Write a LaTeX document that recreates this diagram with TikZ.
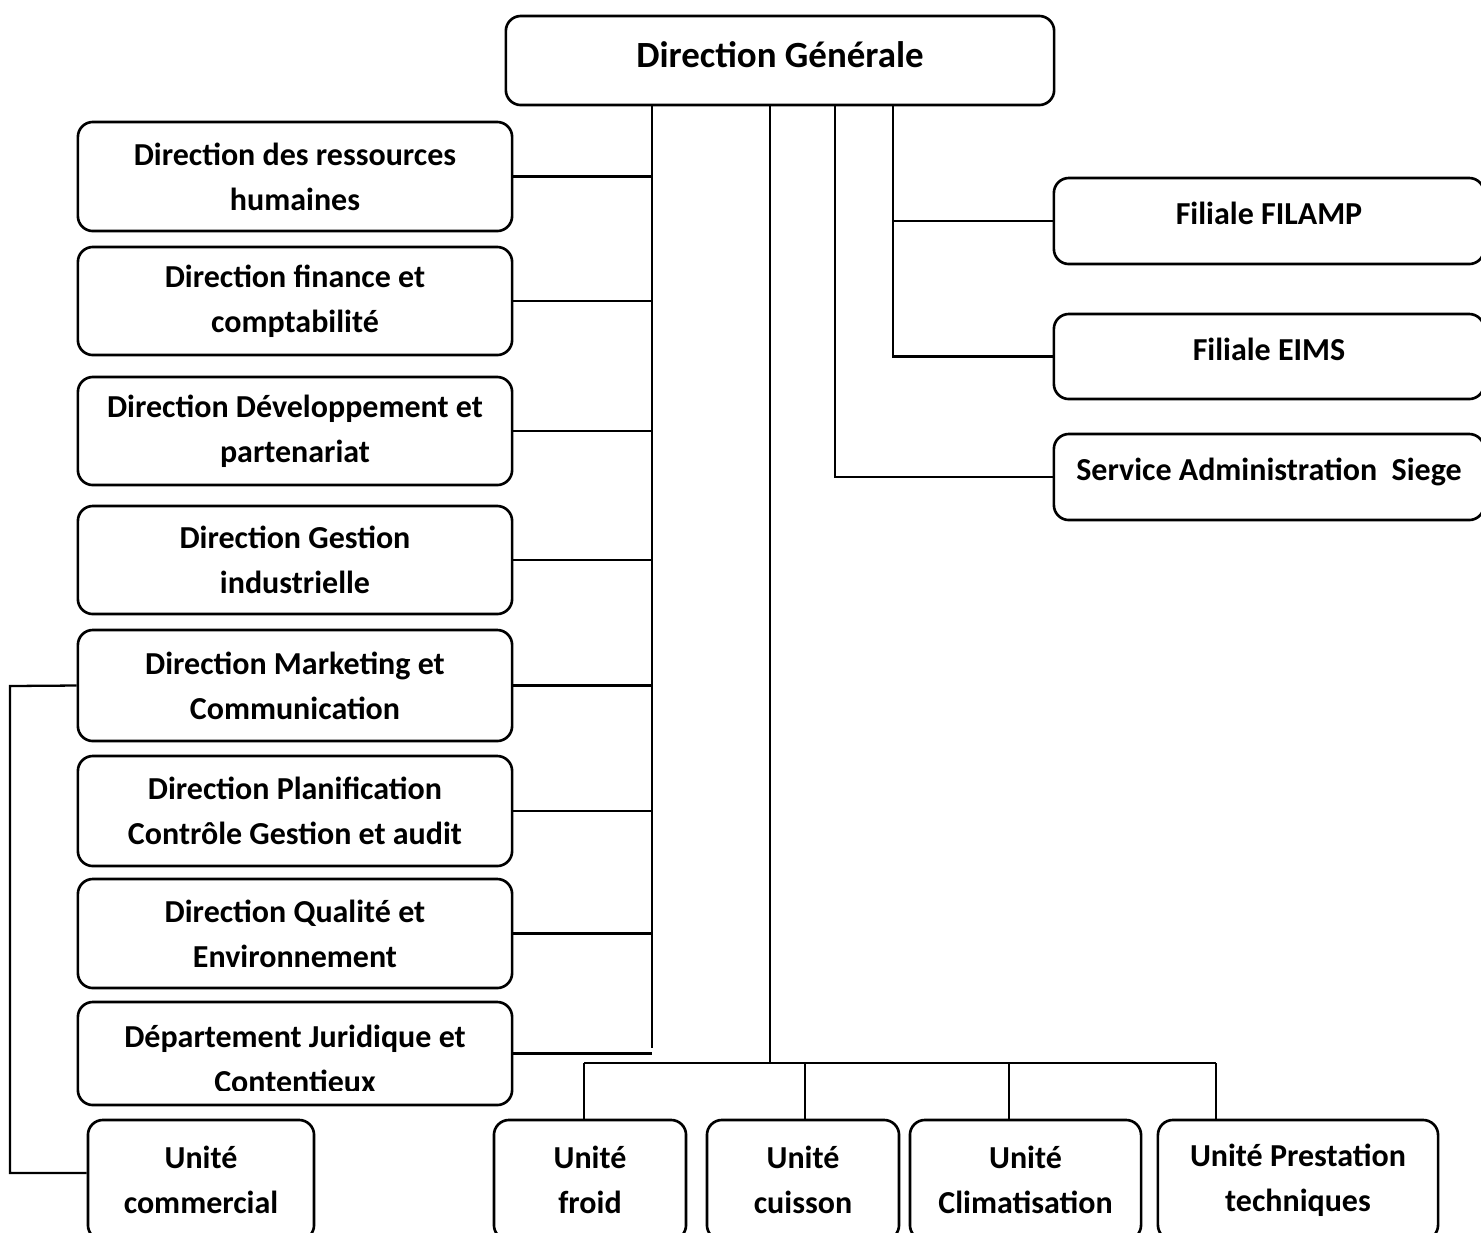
\documentclass[tikz,border=0pt]{standalone}
\usepackage{fontspec}
\setmainfont{Carlito}
\begin{document}
\begin{tikzpicture}[x=0.01cm, y=-0.01cm,
  box/.style={draw=black, line width=0.75pt, rounded corners=0.15cm, inner sep=0pt,
    align=center, font=\fontsize{9.1}{12.8}\selectfont\bfseries},
  oneline/.style={text height=0.25cm, text depth=0.18cm},
  link/.style={draw=black, line width=0.65pt}]
\useasboundingbox (0,0) rectangle (1481,1232);
\clip (0,0) rectangle (1481,1232);

% top of the chart
\node[box, minimum width=5.48cm, minimum height=0.89cm, text height=0.28cm, text depth=0.15cm,
  font=\fontsize{10.5}{13}\selectfont\bfseries] (dg) at (780,60.5) {Direction Générale};

% directions on the left
\node[box, minimum width=4.34cm, minimum height=1.09cm] (rh)  at (295,176.5) {Direction des ressources\\humaines};
\node[box, minimum width=4.34cm, minimum height=1.08cm] (fin) at (295,301)   {Direction finance et\\comptabilité};
\node[box, minimum width=4.34cm, minimum height=1.08cm] (dev) at (295,431)   {Direction Développement et\\partenariat};
\node[box, minimum width=4.34cm, minimum height=1.08cm] (gi)  at (295,560)   {Direction Gestion\\industrielle};
\node[box, minimum width=4.34cm, minimum height=1.11cm] (mkt) at (295,685.5) {Direction Marketing et\\Communication};
\node[box, minimum width=4.34cm, minimum height=1.10cm] (pca) at (295,811)   {Direction Planification\\Contrôle Gestion et audit};
\node[box, minimum width=4.34cm, minimum height=1.09cm] (qe)  at (295,933.5) {Direction Qualité et\\Environnement};
\node[box, minimum width=4.34cm, minimum height=1.03cm] (dj)  at (295,1053.5) {};
\begin{scope}
  % the second line runs past the frame and is cut off
  \clip (78,1003) rectangle (512,1090);
  \node[box, draw=none] (djt) at (295,1059)
    {Département Juridique et\\Contentieux};
\end{scope}

% subsidiaries and services on the right
\node[box, minimum width=4.30cm, minimum height=0.86cm, oneline] (filamp) at (1269,221)   {Filiale FILAMP};
\node[box, minimum width=4.30cm, minimum height=0.85cm, oneline] (eims)   at (1269,356.5) {Filiale EIMS};
\node[box, minimum width=4.30cm, minimum height=0.86cm, oneline] (sas)    at (1269,477)   {Service Administration\ \ Siege};

% units at the bottom
\node[box, minimum width=2.26cm, minimum height=1.20cm] (uc)    at (201,1180)  {Unité\\commercial};
\node[box, minimum width=1.92cm, minimum height=1.20cm] (froid) at (590,1180)  {Unité\\froid};
\node[box, minimum width=1.92cm, minimum height=1.20cm] (cuis)  at (803,1180)  {Unité\\cuisson};
\node[box, minimum width=2.31cm, minimum height=1.20cm] (clim)  at (1025.5,1180) {Unité\\Climatisation};
\node[box, minimum width=2.80cm, minimum height=1.20cm] (prest) at (1298,1180) {Unité Prestation\\techniques};

% junction points
\coordinate (jL) at (652,1048);
\coordinate (jM) at (770,1063);
\coordinate (jS) at (835,478);
\coordinate (jF) at (893,220);
\coordinate (jC) at (10,686);
\coordinate (d1) at (584,1063);
\coordinate (d2) at (805,1063);
\coordinate (d3) at (1009,1063);
\coordinate (d4) at (1216,1063);

% left trunk and its branches
\draw[link] (dg.south -| jL) -- (jL);
\foreach \b in {rh,fin,dev,gi,mkt,pca,qe,dj}
  \draw[link] (\b.east) -- (\b.east -| jL);

% commercial unit under marketing
\draw[link] (mkt.west) -- (jC) |- ([yshift=0.07cm]uc.west);

% right trunks
\draw[link] (dg.south -| jS) |- (sas.west);
\draw[link] (dg.south -| jF) |- (eims.west);
\draw[link] (jF |- filamp.west) -- (filamp.west);

% middle trunk and bus to the units
\draw[link] (dg.south -| jM) -- (jM);
\draw[link] (d1) -- (d4);
\draw[link] (d1) -- (d1 |- froid.north);
\draw[link] (d2) -- (d2 |- cuis.north);
\draw[link] (d3) -- (d3 |- clim.north);
\draw[link] (d4) -- (d4 |- prest.north);
\end{tikzpicture}
\end{document}
